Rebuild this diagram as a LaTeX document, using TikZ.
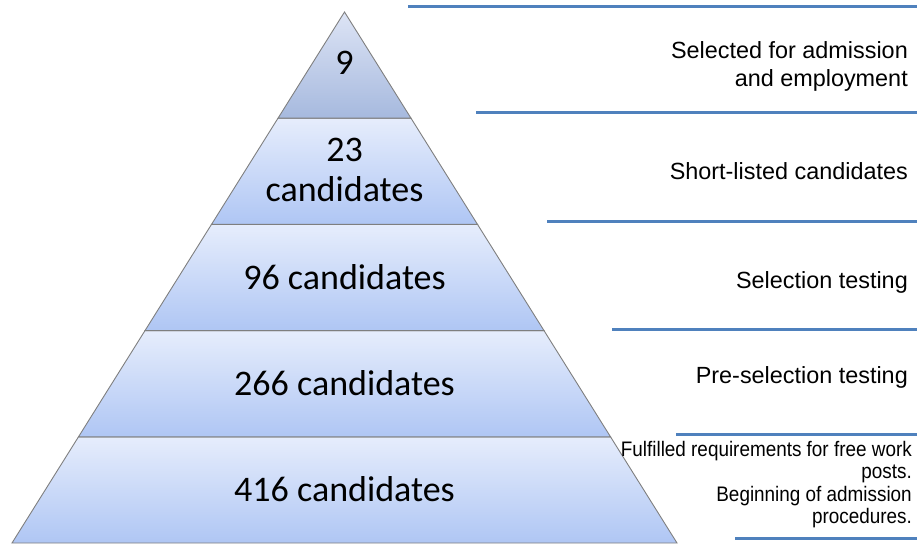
\documentclass[tikz,border=0pt]{standalone}
\usepackage{fontspec}
\setmainfont{Liberation Sans}
\newfontfamily\tierfont{Carlito}
\newfontfamily\narrowfont[FakeStretch=0.9]{Liberation Sans}
\definecolor{tierlight}{HTML}{E6EDFC}
\definecolor{tierdark}{HTML}{AFC6F4}
\definecolor{toplight}{HTML}{DDE4F5}
\definecolor{topdark}{HTML}{A6B9DE}
\definecolor{edgegray}{HTML}{7F7F7F}
\definecolor{ruleblue}{HTML}{4F81BD}

\begin{document}
\begin{tikzpicture}[x=1pt, y=1pt,
	tier/.style={draw=edgegray, line width=0.9pt, top color=tierlight, bottom color=tierdark},
	toptier/.style={draw=edgegray, line width=0.9pt, top color=toplight, bottom color=topdark},
	count/.style={font=\tierfont\fontsize{36}{40}\selectfont, align=center},
	stage/.style={font=\fontsize{23.4}{27.5}\selectfont, align=right, anchor=east, inner sep=0pt},
	divider/.style={ruleblue, line width=3pt}]
		%%%%% START %%%%%
		
		\useasboundingbox (0, 0) rectangle (917, 544);
		
		\draw[tier] (12, 1) -- (677, 1) -- (610.5, 107.2) -- (78.5, 107.2) -- cycle;
		\draw[tier] (78.5, 107.2) -- (610.5, 107.2) -- (544, 213.4) -- (145, 213.4) -- cycle;
		\draw[tier] (145, 213.4) -- (544, 213.4) -- (477.5, 319.6) -- (211.5, 319.6) -- cycle;
		\draw[tier] (211.5, 319.6) -- (477.5, 319.6) -- (411, 425.8) -- (278, 425.8) -- cycle;
		\draw[toptier] (278, 425.8) -- (411, 425.8) -- (344.5, 532) -- cycle;
		
		\node[count] (c9) at (344.5, 481) {9};
		\node[count] (c23) at (344.5, 374) {23\\candidates};
		\node[count] (c96) at (344.5, 267) {96 candidates};
		\node[count] (c266) at (344.5, 161) {266 candidates};
		\node[count] (c416) at (344.5, 55) {416 candidates};
		
		\draw[divider] (408, 537) -- (917, 537);
		\draw[divider] (476, 431.5) -- (917, 431.5);
		\draw[divider] (547, 322.5) -- (917, 322.5);
		\draw[divider] (612, 215) -- (917, 215);
		\draw[divider] (676, 110) -- (917, 110);
		\draw[divider] (735, 5.5) -- (917, 5.5);
		
		\node[stage] (selected) at (908, 477.5) {Selected for admission\\and employment};
		\node[stage] (shortlist) at (908, 373) {Short-listed candidates};
		\node[stage] (testing) at (908, 262) {Selection testing};
		\node[stage] (pretest) at (908, 167) {Pre-selection testing};
		\node[stage, font=\narrowfont\fontsize{21}{22.5}\selectfont] (fulfilled) at (912, 59.5)
			{Fulfilled requirements for free work\\posts.\\Beginning of admission\\procedures.};
		
		%%%%% END %%%%%
	\end{tikzpicture}
\end{document}
